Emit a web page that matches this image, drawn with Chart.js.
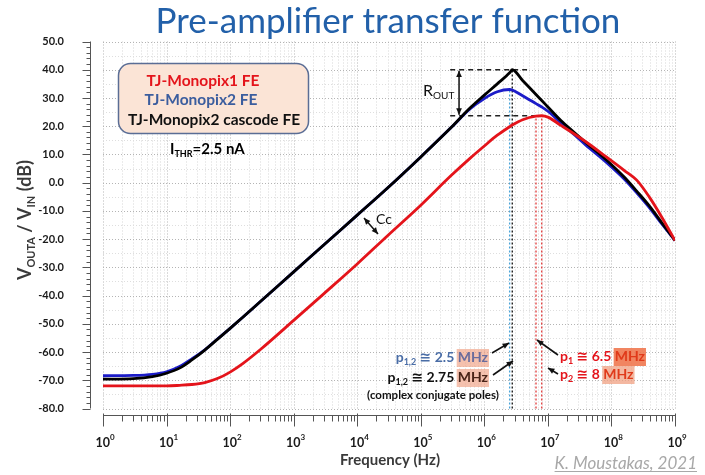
<!DOCTYPE html>
<html>
<head>
<meta charset="utf-8">
<script src="https://cdn.jsdelivr.net/npm/chart.js@4.4.0/dist/chart.umd.min.js"></script>
<style>
html, body { margin: 0; padding: 0; background: #fff; }
#wrap { width: 705px; height: 475px; }
</style>
</head>
<body>
<div id="wrap"><canvas id="chart" width="705" height="475"></canvas></div>
<script>
// Frequencies (Hz) shared by all three curves
const freqHz = [1, 3, 6, 10, 16, 25, 40, 63, 100, 160, 300, 1e3, 3e3, 1e4, 3e4, 1e5, 3e5, 6e5, 1e6, 1.6e6,
    2.5e6, 2.75e6, 4e6, 6.5e6, 8e6, 1e7, 1.6e7, 2.5e7, 4e7, 8e7, 1.6e8, 2.5e8, 4e8, 6.3e8, 1e9];

// Gain VOUTA/VIN (dB)
const gainMonopix1 = [-72.0, -72.0, -72.0, -72.0, -71.8, -71.5, -70.8, -69.4, -67.1, -64.0, -59.1, -48.8, -39.3,
    -28.8, -18.8, -8.0, 2.5, 8.7, 13.0, 16.8, 19.8, 20.4, 22.3, 23.6, 23.7, 23.2, 20.3, 17.5, 14.4, 9.4, 4.3, 0.9,
    -5.3, -12.5, -20.5];
const gainMonopix2 = [-68.4, -68.3, -67.9, -67.0, -65.1, -62.4, -59.2, -55.4, -51.6, -47.6, -42.1, -31.6, -22.0,
    -11.5, -1.9, 9.1, 19.5, 26.2, 29.8, 32.2, 33.0, 32.8, 30.8, 28.0, 26.8, 25.3, 21.2, 17.3, 13.2, 7.5, 1.2, -3.6,
    -9.0, -14.8, -20.5];
const gainCascode = [-69.6, -69.4, -68.7, -67.5, -65.7, -62.8, -59.3, -55.5, -51.6, -47.6, -42.1, -31.6, -22.0,
    -11.5, -1.9, 9.1, 19.5, 26.5, 31.0, 35.0, 38.9, 40.0, 36.2, 31.2, 29.1, 26.8, 22.0, 18.1, 14.1, 8.4, 1.9, -3.0,
    -8.4, -14.4, -20.5];

// Axis ticks
const yTicks = [50, 40, 30, 20, 10, 0, -10, -20, -30, -40, -50, -60, -70, -80];
const xDecades = [0, 1, 2, 3, 4, 5, 6, 7, 8, 9];

// Pole frequencies marked with dotted lines
const poleMonopix2 = 2.5e6;
const poleCascode = 2.75e6;
const polesMonopix1 = [6.5e6, 8e6];

const FONT = 'Lato, "Open Sans", "DejaVu Sans", sans-serif';
const RED = '#e4141b';
const BLUE = '#1c1cc8';

function toPoints(vals) {
    return freqHz.map((f, i) => ({ x: f, y: vals[i] }));
}

function valueAt(vals, f) {
    return vals[freqHz.indexOf(f)];
}

// Draw a line of text made of pieces (for sub/superscripts)
function richText(ctx, parts, x, y, align) {
    let w = 0;
    parts.forEach(p => { ctx.font = p.font; w += ctx.measureText(p.t).width; });
    let cx = align === 'center' ? x - w / 2 : align === 'right' ? x - w : x;
    ctx.textAlign = 'left';
    ctx.textBaseline = 'alphabetic';
    parts.forEach(p => {
        ctx.font = p.font;
        const pw = ctx.measureText(p.t).width;
        if (p.box) {
            ctx.fillStyle = p.box;
            ctx.fillRect(cx - 1, y - 13, pw + 2, 18);
        }
        ctx.fillStyle = p.color || '#000';
        ctx.fillText(p.t, cx, y + (p.dy || 0));
        cx += pw;
    });
    return w;
}

function arrowHead(ctx, x1, y1, x2, y2) {
    const a = Math.atan2(y2 - y1, x2 - x1), L = 7, W = 0.42;
    ctx.beginPath();
    ctx.moveTo(x2, y2);
    ctx.lineTo(x2 - L * Math.cos(a - W), y2 - L * Math.sin(a - W));
    ctx.lineTo(x2 - L * Math.cos(a + W), y2 - L * Math.sin(a + W));
    ctx.closePath();
    ctx.fill();
}

function arrow(ctx, x1, y1, x2, y2, both) {
    ctx.beginPath();
    ctx.moveTo(x1, y1);
    ctx.lineTo(x2, y2);
    ctx.stroke();
    arrowHead(ctx, x1, y1, x2, y2);
    if (both) arrowHead(ctx, x2, y2, x1, y1);
}

// Grid and marker lines under the curves
const gridPlugin = {
    id: 'gridPlugin',
    beforeDatasetsDraw(chart) {
        const ctx = chart.ctx;
        const xs = chart.scales.x, ys = chart.scales.y;
        const { left, right, top, bottom } = chart.chartArea;
        ctx.save();
        ctx.lineWidth = 1;
        ctx.setLineDash([1, 2]);

        // vertical grid
        xDecades.forEach(d => {
            for (let m = 1; m <= 9; m++) {
                if (d === 9 && m > 1) break;
                const x = Math.round(xs.getPixelForValue(m * Math.pow(10, d))) + 0.5;
                ctx.strokeStyle = m === 1 ? '#b4b4b4' : '#d6d6d6';
                ctx.beginPath();
                ctx.moveTo(x, top);
                ctx.lineTo(x, bottom);
                ctx.stroke();
            }
        });
        // horizontal grid
        for (let v = -80; v <= 50; v += 5) {
            const y = Math.round(ys.getPixelForValue(v)) + 0.5;
            ctx.strokeStyle = v % 10 === 0 ? '#b4b4b4' : '#dedede';
            ctx.beginPath();
            ctx.moveTo(left, y);
            ctx.lineTo(right, y);
            ctx.stroke();
        }

        // pole markers
        const yb = ys.getPixelForValue(-80);
        const vline = (f, v, color) => {
            const x = xs.getPixelForValue(f);
            ctx.strokeStyle = color;
            ctx.lineWidth = 1.3;
            ctx.setLineDash([2, 2]);
            ctx.beginPath();
            ctx.moveTo(x, yb);
            ctx.lineTo(x, ys.getPixelForValue(v));
            ctx.stroke();
        };
        vline(poleMonopix2, valueAt(gainMonopix2, poleMonopix2), '#4aa3d8');
        vline(poleCascode, valueAt(gainCascode, poleCascode), '#111');
        polesMonopix1.forEach(f => vline(f, valueAt(gainMonopix1, f), '#e03a3a'));

        // R_OUT dashed levels
        const peakTop = Math.max(...gainCascode);
        const peakLow = Math.max(...gainMonopix1);
        ctx.strokeStyle = '#222';
        ctx.lineWidth = 1.3;
        ctx.setLineDash([5, 4]);
        ctx.beginPath();
        ctx.moveTo(xs.getPixelForValue(2.9e5), ys.getPixelForValue(peakTop));
        ctx.lineTo(xs.getPixelForValue(4.7e6), ys.getPixelForValue(peakTop));
        ctx.moveTo(xs.getPixelForValue(2.9e5), ys.getPixelForValue(peakLow));
        ctx.lineTo(xs.getPixelForValue(6.8e6), ys.getPixelForValue(peakLow));
        ctx.stroke();
        ctx.restore();
    }
};

// Axes, labels and annotations
const annotPlugin = {
    id: 'annotPlugin',
    afterDraw(chart) {
        const ctx = chart.ctx;
        const xs = chart.scales.x, ys = chart.scales.y;
        const { left, right, top, bottom } = chart.chartArea;
        ctx.save();

        // title
        ctx.fillStyle = '#2260a9';
        ctx.font = '35px ' + FONT;
        ctx.textAlign = 'center';
        ctx.textBaseline = 'alphabetic';
        ctx.fillText('Pre-amplifier transfer function', 388, 33);

        // y axis
        const ax = 90.5;
        ctx.strokeStyle = '#555';
        ctx.lineWidth = 1;
        ctx.beginPath();
        ctx.moveTo(ax, top);
        ctx.lineTo(ax, bottom);
        for (let v = -80; v <= 50; v += 2) {
            const y = Math.round(ys.getPixelForValue(v)) + 0.5;
            ctx.moveTo(ax, y);
            ctx.lineTo(ax - (v % 10 === 0 ? 8 : 4), y);
        }
        ctx.stroke();
        ctx.fillStyle = '#1a1a1a';
        ctx.font = 'bold 11px ' + FONT;
        ctx.textAlign = 'right';
        ctx.textBaseline = 'middle';
        yTicks.forEach(v => ctx.fillText(v.toFixed(1), 64, ys.getPixelForValue(v)));

        // x axis
        const ay = 415.5;
        ctx.beginPath();
        ctx.moveTo(left, ay);
        ctx.lineTo(right, ay);
        xDecades.forEach(d => {
            const x = Math.round(xs.getPixelForValue(Math.pow(10, d))) + 0.5;
            ctx.moveTo(x, ay - 2);
            ctx.lineTo(x, ay + 11);
            if (d < 9) {
                for (let m = 2; m <= 9; m++) {
                    const xm = Math.round(xs.getPixelForValue(m * Math.pow(10, d))) + 0.5;
                    ctx.moveTo(xm, ay);
                    ctx.lineTo(xm, ay + 6);
                }
            }
        });
        ctx.stroke();
        xDecades.forEach(d => {
            richText(ctx, [
                { t: '10', font: 'bold 12.5px ' + FONT, color: '#1a1a1a' },
                { t: String(d), font: 'bold 8px ' + FONT, color: '#1a1a1a', dy: -7 }
            ], xs.getPixelForValue(Math.pow(10, d)) + 2, 447, 'center');
        });

        // axis titles
        richText(ctx, [{ t: 'Frequency (Hz)', font: 'bold 15px ' + FONT, color: '#3a3a3a' }], 390, 465, 'center');
        ctx.save();
        ctx.translate(31, 220);
        ctx.rotate(-Math.PI / 2);
        richText(ctx, [
            { t: 'V', font: 'bold 18px ' + FONT, color: '#3a3a3a' },
            { t: 'OUTA', font: 'bold 11px ' + FONT, color: '#3a3a3a', dy: 4 },
            { t: ' / V', font: 'bold 18px ' + FONT, color: '#3a3a3a' },
            { t: 'IN', font: 'bold 11px ' + FONT, color: '#3a3a3a', dy: 4 },
            { t: ' (dB)', font: 'bold 18px ' + FONT, color: '#3a3a3a' }
        ], 0, 0, 'center');
        ctx.restore();

        // credit
        ctx.font = 'italic 17px ' + FONT;
        ctx.fillStyle = '#a8a8a8';
        ctx.textAlign = 'right';
        ctx.textBaseline = 'alphabetic';
        ctx.fillText('K. Moustakas, 2021', 697, 469);
        const cw = ctx.measureText('K. Moustakas, 2021').width;
        ctx.fillRect(697 - cw, 471, cw, 1);

        // legend box
        ctx.beginPath();
        ctx.roundRect(118.5, 63.5, 190, 70, 12);
        ctx.fillStyle = '#fbe4d6';
        ctx.fill();
        ctx.strokeStyle = '#5a6d95';
        ctx.lineWidth = 1.5;
        ctx.stroke();
        const lf = 'bold 15.5px ' + FONT;
        richText(ctx, [{ t: 'TJ-Monopix1 FE', font: lf, color: RED }], 203, 86, 'center');
        richText(ctx, [{ t: 'TJ-Monopix2 FE', font: lf, color: '#3b5d9e' }], 201, 105, 'center');
        richText(ctx, [{ t: 'TJ-Monopix2 cascode FE', font: lf, color: '#111' }], 214, 125, 'center');
        richText(ctx, [
            { t: 'I', font: 'bold 15px ' + FONT },
            { t: 'THR', font: 'bold 9px ' + FONT, dy: 3 },
            { t: '=2.5 nA', font: 'bold 15px ' + FONT }
        ], 170, 154, 'left');

        // R_OUT
        const peakTop = Math.max(...gainCascode);
        const peakLow = Math.max(...gainMonopix1);
        ctx.strokeStyle = '#111';
        ctx.fillStyle = '#111';
        ctx.lineWidth = 1.5;
        const rx = xs.getPixelForValue(4e5);
        arrow(ctx, rx, ys.getPixelForValue(peakTop) + 1, rx, ys.getPixelForValue(peakLow) - 1, true);
        richText(ctx, [
            { t: 'R', font: '16px ' + FONT, color: '#111' },
            { t: 'OUT', font: '10px ' + FONT, color: '#111', dy: 3 }
        ], 423, 96, 'left');

        // Cc
        arrow(ctx, 364, 218, 378, 234, true);
        richText(ctx, [{ t: 'Cc', font: '14px ' + FONT, color: '#111' }], 376, 224, 'left');

        // pole labels
        const pf = 'bold 14px ' + FONT, sf = 'bold 9px ' + FONT;
        const blueTxt = '#4a6da6';
        richText(ctx, [
            { t: 'p', font: pf, color: blueTxt },
            { t: '1,2', font: sf, color: blueTxt, dy: 3 },
            { t: ' \u2245 2.5 ', font: pf, color: blueTxt },
            { t: 'MHz', font: pf, color: '#6a6c9c', box: 'rgba(240,160,130,0.65)' }
        ], 488, 362, 'right');
        richText(ctx, [
            { t: 'p', font: pf, color: '#111' },
            { t: '1,2', font: sf, color: '#111', dy: 3 },
            { t: ' \u2245 2.75 ', font: pf, color: '#111' },
            { t: 'MHz', font: pf, color: '#4a2418', box: 'rgba(240,160,130,0.65)' }
        ], 488, 382, 'right');
        richText(ctx, [{ t: '(complex conjugate poles)', font: 'bold 11.5px ' + FONT, color: '#111' }], 433, 399, 'center');
        richText(ctx, [
            { t: 'p', font: pf, color: RED },
            { t: '1', font: sf, color: RED, dy: 3 },
            { t: ' \u2245 6.5 ', font: pf, color: RED },
            { t: 'MHz', font: pf, color: '#e03a1a', box: 'rgba(240,120,80,0.9)' }
        ], 560, 361, 'left');
        richText(ctx, [
            { t: 'p', font: pf, color: RED },
            { t: '2', font: sf, color: RED, dy: 3 },
            { t: ' \u2245 8 ', font: pf, color: RED },
            { t: 'MHz', font: pf, color: '#e03a1a', box: 'rgba(240,160,130,0.75)' }
        ], 560, 379, 'left');

        ctx.strokeStyle = '#111';
        ctx.fillStyle = '#111';
        ctx.lineWidth = 1.6;
        arrow(ctx, 492, 353, 509, 343, false);
        arrow(ctx, 493, 375, 513, 361, false);
        arrow(ctx, 558, 355, 537, 340, false);
        arrow(ctx, 558, 374, 548, 368, false);

        ctx.restore();
    }
};

new Chart(document.getElementById('chart'), {
    type: 'line',
    data: {
        datasets: [
            { label: 'TJ-Monopix1 FE', data: toPoints(gainMonopix1), borderColor: RED, order: 0 },
            { label: 'TJ-Monopix2 cascode FE', data: toPoints(gainCascode), borderColor: '#000', order: 1 },
            { label: 'TJ-Monopix2 FE', data: toPoints(gainMonopix2), borderColor: BLUE, order: 2 }
        ]
    },
    options: {
        responsive: false,
        animation: false,
        layout: { padding: { left: 103, right: 30, top: 41.5, bottom: 66.5 } },
        elements: {
            point: { radius: 0 },
            line: { borderWidth: 2.8, cubicInterpolationMode: 'monotone', fill: false }
        },
        plugins: {
            legend: { display: false },
            tooltip: { enabled: false }
        },
        scales: {
            x: { type: 'logarithmic', min: 1, max: 1e9, display: false },
            y: { type: 'linear', min: -80, max: 50, display: false }
        }
    },
    plugins: [gridPlugin, annotPlugin]
});
</script>
</body>
</html>
